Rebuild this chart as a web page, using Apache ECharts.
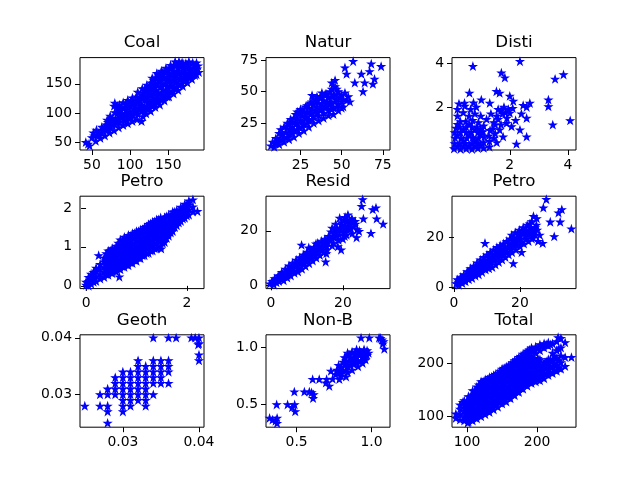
<!DOCTYPE html>
<html>
<head>
<meta charset="utf-8">
<script src="https://cdn.jsdelivr.net/npm/echarts@6/dist/echarts.min.js"></script>
<style>
  body { margin: 0; background: #fff; }
  #chart { width: 640px; height: 480px; }
</style>
</head>
<body>
<div id="chart"></div>
<script>
// panel titles, left to right, top to bottom
var titles = ['Coal', 'Natur', 'Disti', 'Petro', 'Resid', 'Petro', 'Geoth', 'Non-B', 'Total'];

// view limits
var xRanges = [[34.4, 196.8], [4, 79.4], [0.01, 4.28], [-0.12, 2.34], [-1.4, 33.1], [-0.6, 37], [0.02437, 0.04066], [0.296, 1.123], [78.5, 255.5]];
var yRanges = [[36.7, 195], [3.7, 77], [0.06, 4.24], [-0.07, 2.3], [-1.2, 32.7], [-0.65, 36.7], [0.02426, 0.04053], [0.295, 1.11], [79.8, 254.6]];

// tick values and label decimals
var xTicks = [[50, 100, 150], [25, 50, 75], [2, 4], [0, 2], [0, 20], [0, 20], [0.03, 0.04], [0.5, 1.0], [100, 200]];
var yTicks = [[50, 100, 150], [25, 50, 75], [2, 4], [0, 1, 2], [0, 20], [0, 20], [0.03, 0.04], [0.5, 1.0], [100, 200]];
var tickDecimals = [0, 0, 0, 0, 0, 0, 2, 1, 0];

var coal = [
  [42,50],[47,44],[50,58],[52,66],[55,52],[57,62],[56,71],[61,57],[62,67],[63,76],[67,61],[68,71],[69,80],[70,88],
  [73,66],[74,77],[75,86],[74,95],[79,70],[80,81],[81,90],[80,101],[79,112],[80,117],[85,75],[86,84],[86,95],[87,104],
  [86,114],[91,79],[92,88],[93,98],[92,108],[91,118],[97,82],[98,93],[99,102],[98,112],[97,122],[103,86],[104,96],
  [105,107],[104,116],[103,126],[109,89],[110,98],[111,108],[110,119],[109,128],[110,136],[115,86],[117,94],[116,104],
  [115,114],[116,124],[117,134],[116,142],[121,99],[122,108],[123,118],[122,128],[121,138],[122,148],[127,103],[128,112],
  [129,122],[128,132],[127,142],[128,152],[129,160],[133,110],[134,120],[135,130],[134,140],[133,150],[134,160],[135,168],
  [139,114],[140,124],[141,134],[140,144],[139,154],[140,164],[141,172],[145,121],[146,130],[147,140],[146,150],[145,160],
  [146,170],[147,177],[151,128],[152,137],[153,146],[152,156],[151,166],[152,176],[153,182],[157,133],[158,142],[159,152],
  [158,162],[157,172],[158,182],[159,188],[163,139],[164,148],[165,158],[164,168],[163,178],[164,188],[169,146],[170,156],
  [171,166],[170,176],[169,186],[175,152],[176,162],[177,172],[176,182],[177,188],[181,158],[182,168],[183,178],[182,186],
  [187,166],[188,176],[187,186],[190,170],[189,181],
  [60,62],[66,75],[72,72],[78,85],[84,90],[84,108],[89,100],[95,88],[95,106],[101,112],[101,92],[107,102],[107,122],
  [113,112],[113,128],[119,104],[119,130],[125,118],[125,138],[131,126],[131,146],[137,125],[137,156],[143,130],[143,150],
  [149,135],[149,162],[155,148],[155,168],[161,155],[161,172],[167,160],[167,180],[173,160],[173,178],[179,168],[185,172],
  [45,47],[53,61],[59,65],[65,70],[71,75],[71,84],[77,80],[77,91],[83,85],[83,99],[83,112],[89,92],[89,110],[95,96],
  [95,116],[101,100],[101,120],[107,104],[107,113],[113,104],[113,122],[119,110],[119,122],[119,140],[125,108],[125,128],
  [125,146],[131,116],[131,136],[131,156],[137,118],[137,135],[137,148],[137,165],[143,124],[143,140],[143,160],[143,170],
  [149,128],[149,145],[149,155],[149,172],[155,136],[155,158],[155,178],[161,145],[161,165],[161,182],[167,150],[167,170],
  [167,185],[173,155],[173,168],[173,185],[179,162],[179,176],[185,165],[185,182]
];
var natur = [
  [7,7],[8,10],[9,6],[10,13],[12,8],[12,12],[12,17],[13,20],[15,10],[15,14],[16,18],[15,22],[18,12],[18,16],[19,20],
  [18,24],[19,28],[21,14],[21,19],[22,24],[21,29],[22,32],[24,17],[24,22],[25,27],[24,32],[25,36],[27,19],[27,24],
  [28,29],[27,34],[28,38],[30,22],[30,27],[31,32],[30,37],[31,41],[33,25],[33,30],[34,35],[33,40],[34,44],[32,47],
  [36,27],[36,31],[37,36],[36,41],[37,46],[39,29],[39,33],[40,38],[39,43],[40,48],[42,31],[42,35],[43,40],[42,45],
  [43,50],[45,32],[45,37],[46,42],[45,47],[46,54],[46,59],[44,57],[48,35],[48,40],[49,45],[48,50],[51,38],[51,44],
  [52,49],[54,46],[50,37],[57,74],[52,69],[53,64],[62,64],[68,72],[74,70],[67,66],[70,60],[69,56],[63,50],[58,57],
  [64,57],[55,42],
  [10,9],[14,16],[17,21],[20,17],[20,26],[23,20],[23,29],[26,22],[26,31],[29,25],[29,34],[32,28],[32,37],[35,33],
  [35,43],[38,36],[38,46],[41,38],[41,48],[44,41],[44,52],[47,44],[47,48],[50,47],
  [11,10],[14,12],[17,14],[17,25],[20,22],[23,25],[23,34],[26,26],[26,35],[29,30],[29,39],[32,33],[32,42],[35,38],
  [35,46],[38,40],[38,49],[41,42],[44,36],[44,46],[47,38],[47,52],[50,42],[53,43]
];
var disti = [
  [0.08,0.12],[0.1,0.35],[0.12,0.6],[0.1,0.85],[0.15,1.05],[0.3,0.1],[0.28,0.35],[0.32,0.6],[0.3,0.85],[0.28,1.1],
  [0.3,1.35],[0.5,0.12],[0.48,0.36],[0.52,0.6],[0.5,0.85],[0.5,1.1],[0.48,1.35],[0.7,0.1],[0.7,0.36],[0.72,0.62],
  [0.68,0.86],[0.7,1.1],[0.72,1.4],[0.9,0.14],[0.9,0.38],[0.92,0.6],[0.9,0.85],[0.88,1.1],[0.92,1.3],[1.1,0.15],
  [1.1,0.4],[1.12,0.65],[1.08,0.9],[1.1,1.15],[1.3,0.2],[1.3,0.45],[1.28,0.7],[1.32,0.95],
  [0.2,1.6],[0.2,1.9],[0.25,2.15],[0.4,1.75],[0.45,2.05],[0.44,2.18],[0.61,2.64],[0.6,1.6],[0.65,1.9],[0.8,1.7],
  [0.85,2.0],[0.75,2.2],[1.02,2.33],[1.0,1.6],[1.2,1.45],[0.73,3.85],
  [1.31,2.18],[1.45,1.3],[1.5,0.8],[1.55,1.6],[1.6,1.9],[1.54,2.71],[1.65,2.64],[1.71,3.55],[1.83,3.33],[1.7,1.2],
  [1.75,1.7],[1.8,2.0],[1.65,0.97],[1.77,0.66],[1.9,1.5],[1.89,1.27],[1.95,1.9],[2.0,2.5],[2.0,1.73],[2.06,1.12],
  [2.12,2.27],[2.2,1.4],[2.35,0.97],[2.23,0.33],[2.35,4.07],[2.46,2.08],[2.58,2.0],[2.69,2.18],[2.58,1.5],[2.58,0.66],
  [2.4,1.7],[1.55,0.4],[3.33,2.33],[3.33,2.03],[3.56,3.27],[3.85,3.47],[4.08,1.39],[3.48,1.2],
  [1.4,1.0],[1.5,1.2],[1.45,0.6],[1.6,1.45],[1.7,1.85],[1.85,1.75],[2.1,1.95],[1.35,1.7],
  [0.2,0.22],[0.4,0.24],[0.6,0.25],[0.8,0.26],[1.0,0.28],[0.2,0.72],[0.4,0.48],[0.6,0.72],[0.8,0.5],[1.0,0.75],
  [0.2,1.22],[0.4,0.98],[0.6,1.22],[0.8,0.98],[1.0,1.0]
];
var petroA = [
  [0.0,0.02],[0.0,0.1],[0.05,0.0],[0.05,0.12],[0.05,0.22],[0.1,0.05],[0.1,0.17],[0.1,0.3],[0.15,0.1],[0.15,0.22],
  [0.15,0.35],[0.2,0.12],[0.2,0.25],[0.2,0.38],[0.2,0.46],[0.25,0.78],[0.28,0.18],[0.28,0.3],[0.28,0.43],[0.28,0.55],
  [0.36,0.22],[0.36,0.35],[0.36,0.48],[0.36,0.62],[0.36,0.72],[0.44,0.28],[0.44,0.4],[0.44,0.53],[0.44,0.66],[0.44,0.8],
  [0.44,0.9],[0.52,0.32],[0.52,0.45],[0.52,0.58],[0.52,0.71],[0.52,0.84],[0.52,0.96],[0.6,0.36],[0.6,0.49],[0.6,0.62],
  [0.6,0.75],[0.6,0.88],[0.6,1.02],[0.66,0.23],[0.68,0.42],[0.68,0.55],[0.68,0.68],[0.68,0.81],[0.68,0.94],[0.68,1.08],
  [0.68,1.18],[0.76,0.48],[0.76,0.6],[0.76,0.73],[0.76,0.86],[0.76,0.99],[0.76,1.12],[0.76,1.25],[0.84,0.52],[0.84,0.65],
  [0.84,0.78],[0.84,0.91],[0.84,1.04],[0.84,1.17],[0.84,1.3],[0.92,0.58],[0.92,0.71],[0.92,0.84],[0.92,0.97],[0.92,1.1],
  [0.92,1.23],[0.92,1.35],[1.0,0.64],[1.0,0.77],[1.0,0.9],[1.0,1.03],[1.0,1.16],[1.0,1.29],[1.0,1.4],[1.08,0.7],
  [1.08,0.83],[1.08,0.96],[1.08,1.09],[1.08,1.22],[1.08,1.35],[1.08,1.44],[1.16,0.78],[1.16,0.91],[1.16,1.04],[1.16,1.17],
  [1.16,1.3],[1.16,1.42],[1.16,1.5],[1.24,0.84],[1.24,0.97],[1.24,1.1],[1.24,1.23],[1.24,1.36],[1.24,1.48],[1.24,1.58],
  [1.32,0.9],[1.32,1.03],[1.32,1.16],[1.32,1.29],[1.32,1.42],[1.32,1.55],[1.32,1.64],[1.4,0.96],[1.4,1.09],[1.4,1.22],
  [1.4,1.35],[1.4,1.48],[1.4,1.6],[1.4,1.7],[1.48,1.02],[1.48,1.15],[1.48,1.28],[1.48,1.41],[1.48,1.54],[1.48,1.66],
  [1.48,1.75],[1.49,0.95],[1.56,1.12],[1.56,1.25],[1.56,1.38],[1.56,1.51],[1.56,1.64],[1.56,1.76],[1.64,1.28],[1.64,1.41],
  [1.64,1.54],[1.64,1.67],[1.64,1.82],[1.72,1.4],[1.72,1.53],[1.72,1.66],[1.72,1.79],[1.72,1.9],[1.8,1.55],[1.8,1.68],
  [1.8,1.81],[1.8,1.94],[1.88,1.66],[1.88,1.79],[1.88,1.92],[1.88,2.02],[1.96,1.74],[1.96,1.87],[1.96,2.0],[1.96,2.1],
  [2.04,1.82],[2.04,1.95],[2.04,2.08],[2.04,2.18],[2.12,1.9],[2.12,2.03],[2.12,2.21],[2.21,1.91],
  [0.4,0.3],[0.4,0.43],[0.4,0.56],[0.4,0.7],[0.4,0.83],[0.48,0.35],[0.48,0.48],[0.48,0.62],[0.48,0.76],[0.48,0.9],
  [0.56,0.4],[0.56,0.53],[0.56,0.66],[0.56,0.8],[0.56,0.94],[0.64,0.45],[0.64,0.58],[0.64,0.71],[0.64,0.85],[0.64,0.98],
  [0.64,1.1],[0.72,0.5],[0.72,0.63],[0.72,0.77],[0.72,0.9],[0.72,1.04],[0.72,1.17],[0.8,0.55],[0.8,0.68],[0.8,0.82],
  [0.8,0.95],[0.8,1.08],[0.8,1.22],[0.88,0.6],[0.88,0.74],[0.88,0.88],[0.88,1.02],[0.88,1.15],[0.88,1.28],[0.96,0.66],
  [0.96,0.8],[0.96,0.94],[0.96,1.08],[0.96,1.22],[0.96,1.35],[1.04,0.72],[1.04,0.86],[1.04,1.0],[1.04,1.14],[1.04,1.28],
  [1.04,1.4],[1.12,0.78],[1.12,0.92],[1.12,1.06],[1.12,1.2],[1.12,1.34],[1.12,1.45],[1.2,0.84],[1.2,0.98],[1.2,1.12],
  [1.2,1.26],[1.2,1.4],[1.2,1.52],[1.28,0.9],[1.28,1.04],[1.28,1.18],[1.28,1.32],[1.28,1.46],[1.28,1.6],[1.36,0.96],
  [1.36,1.1],[1.36,1.24],[1.36,1.38],[1.36,1.52],[1.36,1.65],[1.44,1.02],[1.44,1.16],[1.44,1.3],[1.44,1.44],[1.44,1.58],
  [1.44,1.7],[1.52,1.1],[1.52,1.24],[1.52,1.38],[1.52,1.52],[1.52,1.66],[1.6,1.22],[1.6,1.36],[1.6,1.5],[1.6,1.64],
  [1.6,1.78],[1.68,1.36],[1.68,1.5],[1.68,1.64],[1.68,1.78],[1.76,1.5],[1.76,1.64],[1.76,1.78],[1.76,1.9],[1.84,1.62],
  [1.84,1.76],[1.84,1.9],[1.92,1.72],[1.92,1.86],[1.92,2.0],[2.0,1.8],[2.0,1.94],[2.0,2.08]
];
var resid = [
  [-0.3,0.6],[0.3,1.5],[0.8,0.2],[1,2.5],[1.5,1],[2,3.5],[2.2,1.5],[2.8,2.5],[3,4.8],[3.5,1.8],[3.8,3.5],[4,6],
  [4.5,2.8],[4.8,4.6],[5,7.2],[5.5,3.5],[5.8,5.8],[6,8.2],[6.5,4.5],[6.8,6.8],[7,9.3],[7.5,5],[7.8,7.5],[8,10.2],
  [8.5,14.8],[8.6,6],[8.8,8.6],[9,11.2],[9.6,7],[9.8,9.5],[10,12.2],[10.5,13.8],[10.6,8],[10.8,10.5],[11,13],[11.6,9],
  [11.8,11.5],[12,14],[12.5,15.2],[12.6,10],[12.8,12.5],[13,15.5],[13.6,11],[13.8,13.5],[14,16.2],[14.6,12],[14.8,14.5],
  [15,17],[15.2,8.6],[15.4,11.7],[15.6,13],[15.8,15.5],[16,18],[16.5,16.5],[16.7,19.6],[17,14.5],[17,21],[17.5,17.5],
  [18,19.5],[18,22.5],[18.6,14.2],[18.8,16.5],[19,18.5],[19.1,24.7],[19.2,21],[19.5,13],[19.6,23],[20,17],[20.2,19.5],
  [20.5,21.8],[20.6,25],[21,18.5],[21.2,23.5],[21.4,25.9],[21.8,20.5],[22,22.5],[22.5,24.5],[22.6,19],[23,21.5],
  [23.4,23.5],[23.8,17.5],[24,20.5],[24.5,19.8],[25.5,31.5],[25.2,29],[25.7,24.4],[28.3,27.8],[29.2,28.4],[29.4,24.4],
  [31.2,22.5],[27.8,19.1],
  [1.2,1.8],[2.5,2.6],[3.3,3.4],[4.2,4.3],[5.2,5.4],[6.2,6.4],[7.2,7.2],[8.2,8.4],[9.2,9.2],[10.2,10.3],[11.2,11.2],
  [12.2,12.2],[13.2,13.2],[14.2,14.2],[15.2,15.6],[16.3,16.6],[17.3,18.2],[18.3,20.5],[21.5,21.8],[22.8,23],
  [0.5,0.8],[1.8,2.5],[2.5,3.6],[3.2,2.4],[4,5],[4.6,3.8],[5.5,6.5],[6.2,5.2],[7,8.2],[7.6,6.2],[8.4,9.4],[9,7.8],
  [9.4,10.8],[10.2,9],[10.8,12],[11.4,10],[12,13.2],[12.4,11],[13.3,14.5],[14.2,13],[14.4,15.5],[15.5,14.3],[16.2,17.2],
  [17.4,15.5],[17.8,20.5],[18.2,18],[19.5,20],[19.8,22],[20.5,18],[21,20.5],[21,24],[22.2,21],[22.5,23.5],[23.5,22.5],
  [20.5,24]
];
var petroB = [
  [0.7,1.4],[1,3],[1.5,0.8],[1.8,2.2],[2,4],[2.5,1.5],[2.8,3.2],[3,5],[3.5,2.2],[3.8,4],[4,6.2],[4.5,3],[4.8,5],
  [5,7.5],[5.5,3.5],[5.8,6],[6,8.5],[6.5,4.5],[6.8,7],[7,9.8],[7.5,5],[7.8,8],[8,11],[8.5,6],[8.8,8.8],[9,12],
  [9.4,17.7],[9.6,7],[9.8,10],[10,13],[10.6,7.5],[10.8,11],[11,14],[11.6,8],[11.8,12],[12,15],[12.6,9],[12.8,13],
  [13,16],[13.6,10],[13.8,13.5],[14,16.8],[14.6,11],[14.8,14.5],[15,17.5],[15.6,12],[15.8,15.2],[16,18.5],[16.6,13],
  [16.8,16],[17,19.5],[17.5,21],[17.6,14],[18,9.5],[18,17],[18.2,20],[18.6,22],[18.8,15],[19,18.5],[19.4,21],
  [19.8,23],[20,16.5],[20.2,19.5],[20.5,14],[20.6,22],[21,24],[21.2,17.5],[21.6,20.5],[22,23],[22.2,25],[22.6,18.5],
  [23,21.5],[23.2,24],[23.6,26.5],[24.1,28.6],[24,20],[24.5,22.5],[25,25],[25.1,27.7],[25.5,18.5],[26,21],[26.9,17.7],
  [28,35.4],[27.1,32],[32.7,31.3],[31.7,30],[29.2,26.3],[32.2,26.3],[35.6,23.5],[30.4,20.4],
  [1.3,2],[2.3,2.8],[3.3,3.6],[4.3,4.6],[5.3,5.6],[6.3,6.7],[7.3,7.4],[8.3,8.4],[9.3,9.4],[10.3,10.4],[11.3,11.2],
  [12.3,12],[13.3,13],[14.3,14],[15.3,15],[16.3,16],[17.3,17.2],[18.4,18.6],[21.2,21.8],[22.5,21.2],[23.8,22.8],
  [1.2,1.2],[2.2,3.5],[3,2.6],[4,4.4],[4.4,6],[5.2,4.8],[5.5,7],[6.4,5.6],[6.8,8.2],[7.4,6.4],[8,9.6],[8.6,7.4],
  [9.2,10.8],[9.8,8.6],[10.6,12],[11,9.6],[11.6,13.4],[12.2,10.6],[12.8,14.5],[13.4,11.8],[14,15.4],[14.6,13],
  [15.4,16.2],[16,14.2],[16.6,17.5],[17.4,15.5],[17.8,18.8],[18.8,17],[19.4,19.8],[20,21],[20.5,18],[21.2,23],
  [21.8,19.4],[22.6,22],[23,25.5],[23.6,19.5],[24.6,21],[24.6,24],[25.2,23]
];
var geoth = [
  [0.025,0.028],[0.027,0.030],[0.027,0.028],[0.028,0.031],[0.028,0.030],[0.028,0.028],[0.028,0.027],[0.028,0.025],
  [0.029,0.033],[0.029,0.032],[0.029,0.031],[0.029,0.030],
  [0.030,0.034],[0.030,0.033],[0.030,0.032],[0.030,0.031],[0.030,0.030],[0.030,0.029],[0.030,0.028],[0.030,0.027],
  [0.031,0.034],[0.031,0.033],[0.031,0.032],[0.031,0.031],[0.031,0.030],[0.031,0.029],[0.031,0.028],
  [0.032,0.036],[0.032,0.035],[0.032,0.034],[0.032,0.033],[0.032,0.032],[0.032,0.031],[0.032,0.030],[0.032,0.029],
  [0.033,0.035],[0.033,0.034],[0.033,0.033],[0.033,0.032],[0.033,0.031],[0.033,0.030],[0.033,0.029],[0.033,0.028],
  [0.034,0.036],[0.034,0.035],[0.034,0.034],[0.034,0.033],[0.034,0.032],[0.034,0.030],
  [0.035,0.036],[0.035,0.035],[0.035,0.034],[0.035,0.033],[0.035,0.032],
  [0.036,0.036],[0.036,0.035],[0.036,0.034],[0.036,0.032],
  [0.034,0.040],[0.036,0.040],[0.037,0.040],[0.039,0.040],[0.0395,0.040],[0.040,0.040],[0.040,0.039],[0.0399,0.0388],
  [0.040,0.037],[0.040,0.036]
];
var nonB = [
  [0.34,0.36],[0.37,0.33],[0.37,0.375],[0.32,0.375],[0.36,0.35],[0.367,0.494],[0.44,0.494],[0.487,0.494],[0.491,0.434],
  [0.47,0.47],[0.485,0.607],[0.552,0.607],[0.585,0.607],[0.614,0.583],[0.61,0.55],[0.6,0.6],[0.607,0.717],[0.651,0.717],
  [0.7,0.717],[0.718,0.657],[0.696,0.687],[0.729,0.79],[0.785,0.717],[0.796,0.747],[0.74,0.72],
  [0.77,0.8],[0.78,0.84],[0.8,0.77],[0.8,0.82],[0.81,0.87],[0.82,0.91],[0.84,0.78],[0.84,0.83],[0.85,0.88],[0.85,0.93],
  [0.87,0.8],[0.88,0.85],[0.88,0.9],[0.89,0.95],[0.91,0.83],[0.91,0.88],[0.92,0.93],[0.92,0.97],[0.94,0.86],[0.94,0.91],
  [0.95,0.95],[0.96,0.89],[0.97,0.93],[0.97,0.97],[0.83,0.74],[0.76,0.76],[0.9,0.98],
  [0.79,0.8],[0.82,0.85],[0.86,0.84],[0.86,0.91],[0.9,0.86],[0.9,0.92],[0.93,0.88],[0.93,0.95],[0.96,0.92],[0.83,0.88],
  [0.78,0.78],[0.81,0.79],[0.83,0.8],[0.87,0.87],[0.89,0.88],[0.95,0.98],[0.98,0.95],[0.84,0.95],[0.87,0.96],
  [0.93,1.083],[0.985,1.083],[1.05,1.083],[1.07,1.065],[1.085,0.985],[1.075,1.03],[1.06,1.08],[1.08,1.05]
];
var total = [
  [84,97],[84,105],[90,94],[90,104],[90,114],[90,122],[96,92],[96,101],[96,111],[96,121],[96,130],[102,90],[102,99],
  [102,109],[102,119],[102,129],[102,138],[108,92],[108,101],[108,111],[108,121],[108,131],[108,141],[108,149],[114,96],
  [114,106],[114,116],[114,126],[114,136],[114,146],[114,156],[120,100],[120,110],[120,120],[120,130],[120,140],[120,150],
  [120,160],[120,166],[126,104],[126,114],[126,124],[126,134],[126,144],[126,154],[126,164],[126,170],[132,108],[132,118],
  [132,128],[132,138],[132,148],[132,158],[132,168],[132,174],[138,113],[138,123],[138,133],[138,143],[138,153],[138,163],
  [138,173],[138,178],[144,118],[144,128],[144,138],[144,148],[144,158],[144,168],[144,178],[144,182],[150,124],[150,134],
  [150,144],[150,154],[150,164],[150,174],[150,184],[150,190],[156,128],[156,138],[156,148],[156,158],[156,168],[156,178],
  [156,188],[156,194],[162,134],[162,144],[162,154],[162,164],[162,174],[162,184],[162,194],[162,198],[168,140],[168,150],
  [168,160],[168,170],[168,180],[168,190],[168,200],[168,206],[174,146],[174,156],[174,166],[174,176],[174,186],[174,196],
  [174,206],[174,212],[180,152],[180,162],[180,172],[180,182],[180,192],[180,202],[180,212],[180,218],[186,158],[186,168],
  [186,178],[186,188],[186,198],[186,208],[186,218],[186,224],[192,163],[192,173],[192,183],[192,193],[192,203],[192,213],
  [192,223],[192,230],[198,166],[198,176],[198,186],[198,196],[198,206],[198,220],[198,232],[204,168],[204,178],[204,188],
  [204,198],[204,208],[204,225],[204,236],[210,172],[210,182],[210,192],[210,202],[210,230],[210,238],[216,178],[216,190],
  [216,200],[216,208],[216,234],[216,240],[222,182],[222,194],[222,206],[222,220],[222,238],[228,186],[228,198],[228,210],
  [228,225],[228,242],[230,249.6],[234,190],[234,202],[234,215],[234,230],[234,248],[240,195],[240,212],[240,240],
  [249,212],[101,88],[94,127],
  [99,96],[99,106],[99,116],[99,126],[105,95],[105,105],[105,115],[105,125],[105,135],[111,98],[111,108],[111,118],
  [111,128],[111,138],[111,148],[117,103],[117,113],[117,123],[117,133],[117,143],[117,153],[117,160],[123,107],[123,117],
  [123,127],[123,137],[123,147],[123,157],[123,166],[129,111],[129,121],[129,131],[129,141],[129,151],[129,161],[129,170],
  [135,116],[135,126],[135,136],[135,146],[135,156],[135,166],[135,175],[141,121],[141,131],[141,141],[141,151],[141,161],
  [141,171],[141,180],[147,126],[147,136],[147,146],[147,156],[147,166],[147,176],[147,186],[153,131],[153,141],[153,151],
  [153,161],[153,171],[153,181],[153,191],[159,136],[159,146],[159,156],[159,166],[159,176],[159,186],[159,196],[165,142],
  [165,152],[165,162],[165,172],[165,182],[165,192],[165,202],[171,148],[171,158],[171,168],[171,178],[171,188],[171,198],
  [171,208],[177,154],[177,164],[177,174],[177,184],[177,194],[177,204],[177,214],[183,160],[183,170],[183,180],[183,190],
  [183,200],[183,210],[183,220],[189,165],[189,175],[189,185],[189,195],[189,205],[189,215],[189,226],[195,168],[195,178],
  [195,188],[195,198],[195,208],[195,224],[201,170],[201,180],[201,190],[201,200],[201,210],[201,228],[207,175],[207,185],
  [207,195],[207,232],[213,180],[213,192],[213,204],[213,236],[219,184],[219,196],[219,208],[219,236],[225,188],[225,200],
  [225,214],[231,192],[231,206],[231,228]
];
var panels = [coal, natur, disti, petroA, resid, petroB, geoth, nonB, total];

var star = 'path://M0,-1L0.2245,-0.309L0.951,-0.309L0.3633,0.118L0.5878,0.809L0,0.382L-0.5878,0.809L-0.3633,0.118L-0.951,-0.309L-0.2245,-0.309Z';

var colLeft = [80, 266, 452];
var rowTop = [57.6, 196.2, 334.8];
var boxW = 124, boxH = 92.4;

var chart = echarts.init(document.getElementById('chart'));
var grids = [], xAxes = [], yAxes = [], series = [], titleList = [];

function axis(i, dim) {
  var r = dim === 'x' ? xRanges[i] : yRanges[i];
  var t = dim === 'x' ? xTicks[i] : yTicks[i];
  var d = tickDecimals[i];
  return {
    type: 'value', gridIndex: i, min: r[0], max: r[1],
    splitLine: { show: false },
    axisLine: { show: false },
    axisTick: { show: true, customValues: t, length: 5, lineStyle: { color: '#000', width: 1 } },
    axisLabel: {
      customValues: t, color: '#000', fontSize: 13.9, fontFamily: 'DejaVu Sans', margin: 8,
      formatter: function (v) { return v.toFixed(d); }
    }
  };
}

for (var i = 0; i < 9; i++) {
  var c = i % 3, r = Math.floor(i / 3);
  grids.push({ left: colLeft[c], top: rowTop[r], width: boxW, height: boxH, show: true,
    borderColor: '#000', borderWidth: 1, backgroundColor: 'transparent', containLabel: false });
  xAxes.push(axis(i, 'x'));
  yAxes.push(axis(i, 'y'));
  titleList.push({ text: titles[i], left: colLeft[c] + boxW / 2, top: rowTop[r] - 23, textAlign: 'center', padding: 0,
    textStyle: { fontSize: 16.7, fontWeight: 'normal', color: '#000', fontFamily: 'DejaVu Sans' } });
  series.push({ type: 'scatter', xAxisIndex: i, yAxisIndex: i, data: panels[i], symbol: star,
    symbolSize: [7.2, 6.9],
    itemStyle: { color: '#0000ff', borderColor: '#0000ff', borderWidth: 1, opacity: 1 } });
}

chart.setOption({
  animation: false,
  backgroundColor: '#fff',
  title: titleList,
  grid: grids,
  xAxis: xAxes,
  yAxis: yAxes,
  series: series
});
</script>
</body>
</html>
